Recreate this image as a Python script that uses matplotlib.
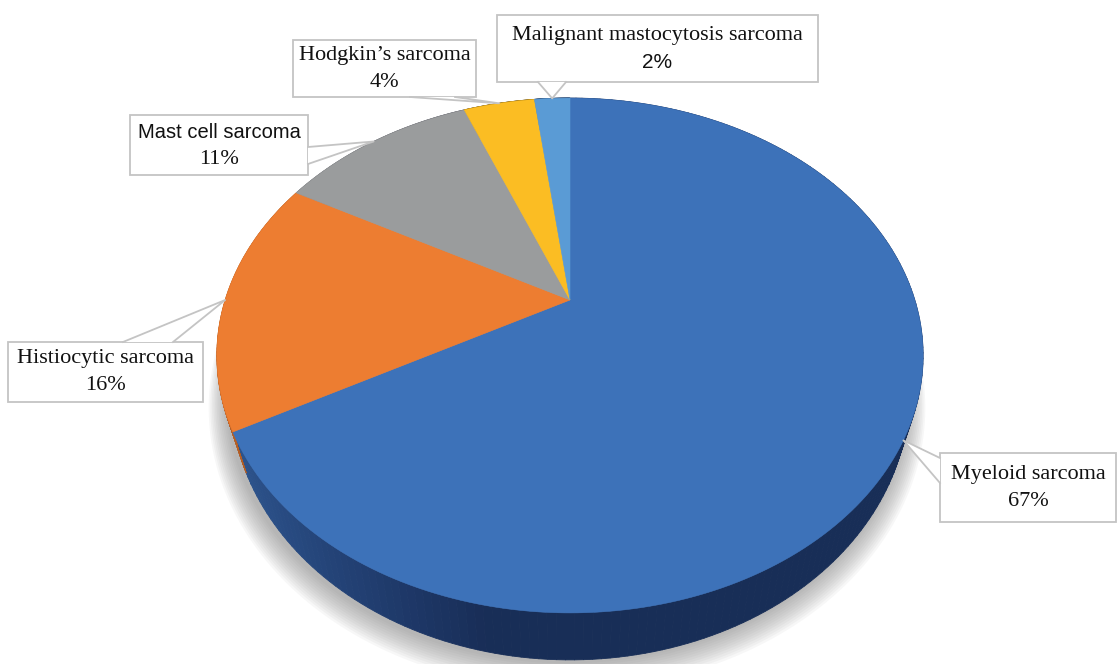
import numpy as np
import matplotlib
matplotlib.use("Agg")
import matplotlib.pyplot as plt
from matplotlib.collections import PolyCollection
from matplotlib.patches import Rectangle, Polygon

# data
labels = ["Myeloid sarcoma", "Histiocytic sarcoma", "Mast cell sarcoma",
          "Hodgkin\u2019s sarcoma", "Malignant mastocytosis sarcoma"]
values = [67, 16, 11, 4, 2]
pct_text = ["67%", "16%", "11%", "4%", "2%"]

# styles
colors = ["#3d72b9", "#ed7d31", "#9a9c9d", "#fbbd23", "#5a9bd5"]
name_fonts = ["Liberation Serif", "Liberation Serif", "Liberation Sans",
              "Liberation Serif", "Liberation Serif"]
pct_fonts = ["Liberation Serif", "Liberation Serif", "Liberation Serif",
             "Liberation Serif", "Liberation Sans"]
# label boxes (x0, y0, x1, y1) in pixels and the wedge base on the box edge
boxes = [(940, 453, 1116, 522), (8, 342, 203, 402), (130, 115, 308, 175),
         (293, 40, 476, 97), (497, 15, 818, 82)]
bases = [((940, 458), (940, 483)), ((123, 342), (173, 342)),
         ((308, 147), (308, 164)), ((410, 97), (455, 97)),
         ((538, 82), (566, 82))]

# perspective pie geometry
cx, cy = 570, 300
D, f, g, h = 4.64, 1600.0, 1139.0, 171.0
shrink = 0.96  # bottom face a bit narrower


def proj(theta, depth=0.0, r=1.0):
    u = r * np.sin(theta)
    v = -r * np.cos(theta)
    den = D - v
    s = shrink if depth else 1.0
    return cx + s * f * u / den, cy + (g * v + depth) / den


def side_shade(rgb, u):
    # lighter toward the left, deep navy at the front and right
    t = np.clip((u + 1.0) / 0.8, 0, 1)
    k = 0.80 * (1 - t) + 0.40 * t
    out = rgb * k
    out[2] = min(1.0, out[2] * (1.0 + 0.18 * t))
    return np.clip(out, 0, 1)


fig = plt.figure(figsize=(11.18, 6.64), dpi=100)
ax = fig.add_axes([0, 0, 1, 1])
ax.set_xlim(0, 1118)
ax.set_ylim(664, 0)
ax.axis("off")

full = np.linspace(0, 2 * np.pi, 721)

# soft shadow under the pie
for k in range(12, 0, -1):
    xs, ys = proj(full, h, 1 + 0.0045 * k)
    ax.fill(xs - 3, ys + 1 + 0.5 * k, color="#7a7a7a", alpha=0.06, lw=0, zorder=1)

fracs = np.cumsum([0] + values) / float(sum(values))
angles = 2 * np.pi * fracs

# side wall
quads, qcols = [], []
for i in range(len(values)):
    th = np.linspace(angles[i], angles[i + 1], 200)
    base = np.array(matplotlib.colors.to_rgb(colors[i]))
    for a, b in zip(th[:-1], th[1:]):
        x1, y1 = proj(a)
        x2, y2 = proj(b)
        x3, y3 = proj(b, h)
        x4, y4 = proj(a, h)
        quads.append([(x1, y1), (x2, y2), (x3, y3), (x4, y4)])
        qcols.append(side_shade(base, np.sin((a + b) / 2)))
side = PolyCollection(quads, facecolors=qcols, edgecolors=qcols, linewidths=0.6, zorder=2)
ax.add_collection(side)

# top face
for i in range(len(values)):
    th = np.linspace(angles[i], angles[i + 1], 300)
    xs, ys = proj(th)
    ax.fill(np.r_[cx, xs], np.r_[cy, ys], color=colors[i], lw=0.4,
            edgecolor=colors[i], zorder=3)

# callout labels
edge = "#c4c4c4"
for i in range(len(values)):
    mid = (angles[i] + angles[i + 1]) / 2
    tx, ty = proj(mid)
    x0, y0, x1, y1 = boxes[i]
    ax.add_patch(Rectangle((x0, y0), x1 - x0, y1 - y0, facecolor="white",
                           edgecolor=edge, lw=1.3, zorder=5))
    (ax1, ay1), (ax2, ay2) = bases[i]
    ax.add_patch(Polygon([(ax1, ay1), (tx, ty), (ax2, ay2)], closed=True,
                         facecolor="white", edgecolor="none", zorder=6))
    ax.plot([ax1, tx, ax2], [ay1, ty, ay2], color=edge, lw=1.3, zorder=6)
    xc = (x0 + x1) / 2
    yc = (y0 + y1) / 2
    fs_name = 14.5 if name_fonts[i] == "Liberation Sans" else 16
    fs_pct = 15 if pct_fonts[i] == "Liberation Sans" else 16
    ax.text(xc, yc - 13, labels[i], ha="center", va="center", fontsize=fs_name,
            family=[name_fonts[i], "DejaVu Sans"], color="#111111", zorder=7)
    ax.text(xc, yc + 14, pct_text[i], ha="center", va="center", fontsize=fs_pct,
            family=[pct_fonts[i], "DejaVu Sans"], color="#111111", zorder=7)

fig.savefig("out.png", dpi=100, facecolor="white")
